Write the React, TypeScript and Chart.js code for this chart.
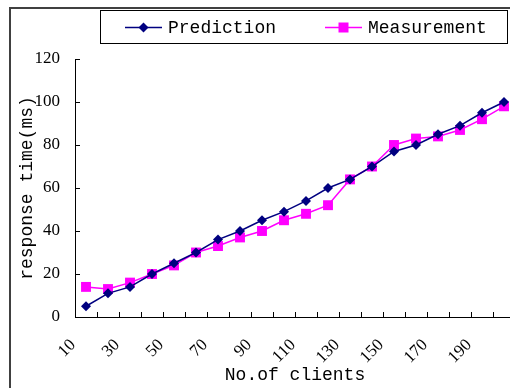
import React, { useEffect, useRef } from "react";
import { Chart, registerables } from "chart.js";

Chart.register(...registerables);

const clients = ["10", "20", "30", "40", "50", "60", "70", "80", "90", "100", "110", "120", "130", "140", "150", "160", "170", "180", "190", "200"];
const prediction = [5, 11, 14, 20, 25, 30, 36, 40, 45, 49, 54, 60, 64, 70, 77, 80, 85, 89, 95, 100];
const measurement = [14, 13, 16, 20, 24, 30, 33, 37, 40, 45, 48, 52, 64, 70, 80, 83, 84, 87, 92, 98];
const seriesNames = ["Prediction", "Measurement"];
const seriesColors = ["#000080", "#FF00FF"];
const seriesMarkers = ["rectRot", "rect"];
const yMin = 0;
const yMax = 120;
const yStep = 20;
const xTitle = "No.of clients";
const yTitle = "response time(ms)";

const TEXT_FONT = "'Liberation Mono', monospace";
const TICK_FONT = "'Liberation Serif', serif";

const boxLegend = {
  id: "boxLegend",
  afterDraw(chart: any) {
    const ctx = chart.ctx as CanvasRenderingContext2D;
    ctx.save();
    ctx.strokeStyle = "#000";
    ctx.lineWidth = 1;
    ctx.strokeRect(100.5, 10.5, 407, 33);
    chart.data.datasets.forEach((ds: any, i: number) => {
      const x0 = 125 + i * 200;
      const y = 27.5;
      ctx.strokeStyle = ds.borderColor;
      ctx.lineWidth = 1.5;
      ctx.beginPath();
      ctx.moveTo(x0, y);
      ctx.lineTo(x0 + 37, y);
      ctx.stroke();
      ctx.fillStyle = ds.borderColor;
      const cx = x0 + 18.5;
      ctx.beginPath();
      if (ds.pointStyle === "rectRot") {
        const r = 5;
        ctx.moveTo(cx, y - r);
        ctx.lineTo(cx + r, y);
        ctx.lineTo(cx, y + r);
        ctx.lineTo(cx - r, y);
        ctx.closePath();
      } else {
        ctx.rect(cx - 5, y - 5, 10, 10);
      }
      ctx.fill();
      ctx.fillStyle = "#000";
      ctx.font = `18px ${TEXT_FONT}`;
      ctx.textBaseline = "middle";
      ctx.textAlign = "left";
      ctx.fillText(ds.label, x0 + 43, y + 1);
    });
    ctx.restore();
  },
};

export default function App() {
  const ref = useRef<HTMLCanvasElement>(null);

  useEffect(() => {
    if (!ref.current) return;
    const series = [prediction, measurement];
    const chart = new Chart(ref.current, {
      type: "line",
      data: {
        labels: clients,
        datasets: series.map((d, i) => ({
          label: seriesNames[i],
          data: d,
          borderColor: seriesColors[i],
          backgroundColor: seriesColors[i],
          borderWidth: 1.5,
          pointStyle: seriesMarkers[i] as any,
          pointRadius: i === 0 ? 5 : 7,
          pointBorderWidth: 0,
          tension: 0,
        })),
      },
      options: {
        responsive: false,
        animation: false,
        events: [],
        layout: { padding: { top: 59, right: 15, left: 0, bottom: 0 } },
        plugins: { legend: { display: false }, tooltip: { enabled: false } },
        scales: {
          x: {
            type: "category",
            offset: true,
            grid: { display: true, drawOnChartArea: false, offset: true, tickLength: -5, color: "#000" },
            border: { color: "#000", width: 1 },
            ticks: {
              autoSkip: false,
              maxRotation: 45,
              minRotation: 45,
              labelOffset: -13,
              padding: 23,
              color: "#000",
              font: { family: TICK_FONT, size: 17 },
              callback: (_v: any, i: number) => (i % 2 === 0 ? clients[i] : ""),
            },
            title: {
              display: true,
              text: xTitle,
              color: "#000",
              font: { family: TEXT_FONT, size: 18 },
              padding: { top: 0, bottom: 2 },
            },
            afterFit: (s: any) => {
              s.height = 71;
              s.paddingLeft = 0;
              s.paddingRight = 0;
            },
          },
          y: {
            min: yMin,
            max: yMax,
            grid: { display: true, drawOnChartArea: false, tickLength: -5, color: "#000" },
            border: { color: "#000", width: 1 },
            ticks: {
              stepSize: yStep,
              padding: 20,
              color: "#000",
              font: { family: TICK_FONT, size: 17 },
            },
            title: {
              display: true,
              text: yTitle,
              color: "#000",
              font: { family: TEXT_FONT, size: 18 },
              padding: { top: 16, bottom: 0 },
            },
            afterFit: (s: any) => {
              s.width = 75;
            },
          },
        },
      },
      plugins: [boxLegend],
    });
    return () => chart.destroy();
  }, []);

  return (
    <div style={{ position: "fixed", left: 0, top: 0, width: 510, height: 388, overflow: "hidden", background: "#fff" }}>
      <div
        style={{
          position: "absolute",
          left: 9,
          top: 7,
          width: 600,
          height: 500,
          borderLeft: "2px solid #404040",
          borderTop: "2px solid #404040",
        }}
      />
      <canvas ref={ref} width={530} height={388} style={{ position: "absolute", left: 0, top: 0 }} />
    </div>
  );
}
